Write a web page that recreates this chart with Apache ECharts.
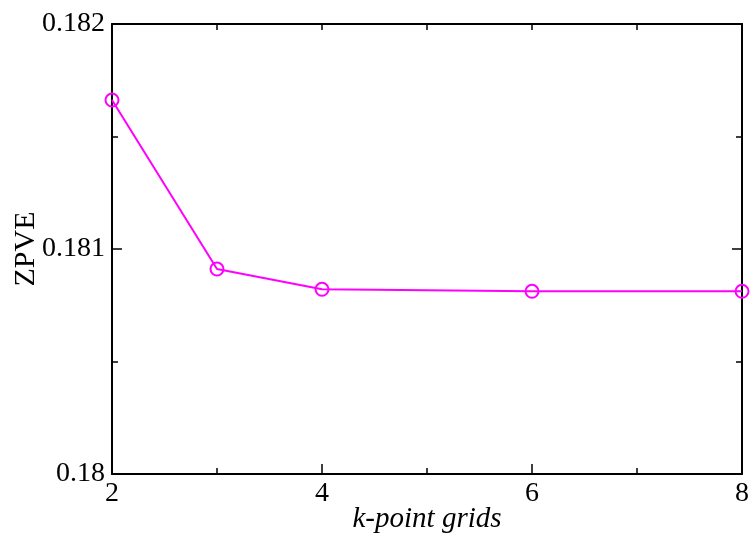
<!DOCTYPE html>
<html>
<head>
<meta charset="utf-8">
<script src="https://cdn.jsdelivr.net/npm/echarts@6/dist/echarts.min.js"></script>
<style>
  html, body { margin: 0; padding: 0; background: #fff; }
  #chart { width: 752px; height: 536px; }
</style>
</head>
<body>
<div id="chart"></div>
<script>
// k-point grid sizes and the zero-point vibrational energy at each
const kGrids = [2, 3, 4, 6, 8];
const zpve = [0.181662, 0.180911, 0.180821, 0.180812, 0.180812];

const xTicks = [2, 4, 6, 8];
const yTicks = [0.18, 0.181, 0.182];

const FONT = '"Liberation Serif", "DejaVu Serif", serif';
const pts = kGrids.map((k, i) => [k, zpve[i]]);

const chart = echarts.init(document.getElementById('chart'), null, { renderer: 'canvas' });

const frameLine = { show: true, onZero: false, lineStyle: { color: '#000', width: 2 } };

chart.setOption({
  animation: false,
  backgroundColor: '#fff',
  grid: { left: 112, right: 10, top: 24, bottom: 62, containLabel: false, outerBoundsMode: 'none' },
  xAxis: [
    {
      type: 'value', position: 'bottom',
      min: xTicks[0], max: xTicks[xTicks.length - 1], interval: 2,
      name: 'k-point grids', nameLocation: 'middle', nameGap: 31, nameMoveOverlap: false,
      nameTextStyle: { fontFamily: FONT, fontSize: 29, fontStyle: 'italic', color: '#000' },
      axisLine: frameLine,
      axisTick: { show: true, inside: true, length: 10, lineStyle: { color: '#000', width: 1.5 } },
      minorTick: { show: true, splitNumber: 2, length: 6, lineStyle: { color: '#000', width: 1.5 } },
      axisLabel: { fontFamily: FONT, fontSize: 28, color: '#000', margin: 6 },
      splitLine: { show: false }
    },
    {
      type: 'value', position: 'top',
      min: xTicks[0], max: xTicks[xTicks.length - 1], interval: 1,
      axisLine: frameLine,
      axisTick: { show: true, inside: true, length: 6, lineStyle: { color: '#000', width: 1.5 } },
      axisLabel: { show: false },
      splitLine: { show: false }
    }
  ],
  yAxis: [
    {
      type: 'value', position: 'left',
      min: yTicks[0], max: yTicks[yTicks.length - 1], interval: 0.001,
      name: 'ZPVE', nameLocation: 'middle', nameGap: 71, nameMoveOverlap: false,
      nameTextStyle: { fontFamily: FONT, fontSize: 30, color: '#000' },
      axisLine: frameLine,
      axisTick: { show: true, inside: true, length: 10, lineStyle: { color: '#000', width: 1.5 } },
      minorTick: { show: true, splitNumber: 2, length: 6, lineStyle: { color: '#000', width: 1.5 } },
      axisLabel: {
        fontFamily: FONT, fontSize: 28, color: '#000', margin: 7,
        formatter: v => String(+v.toFixed(3))
      },
      splitLine: { show: false }
    },
    {
      type: 'value', position: 'right',
      min: yTicks[0], max: yTicks[yTicks.length - 1], interval: 0.001,
      axisLine: frameLine,
      axisTick: { show: true, inside: true, length: 10, lineStyle: { color: '#000', width: 1.5 } },
      minorTick: { show: true, splitNumber: 2, length: 6, lineStyle: { color: '#000', width: 1.5 } },
      axisLabel: { show: false },
      splitLine: { show: false }
    }
  ],
  series: [
    {
      type: 'line',
      xAxisIndex: 0, yAxisIndex: 0,
      data: pts,
      clip: false,
      symbol: 'circle', symbolSize: 13,
      showAllSymbol: true,
      lineStyle: { color: '#ff00ff', width: 2 },
      itemStyle: { color: 'none', borderColor: '#ff00ff', borderWidth: 2 },
      z: 5
    }
  ]
});
</script>
</body>
</html>
